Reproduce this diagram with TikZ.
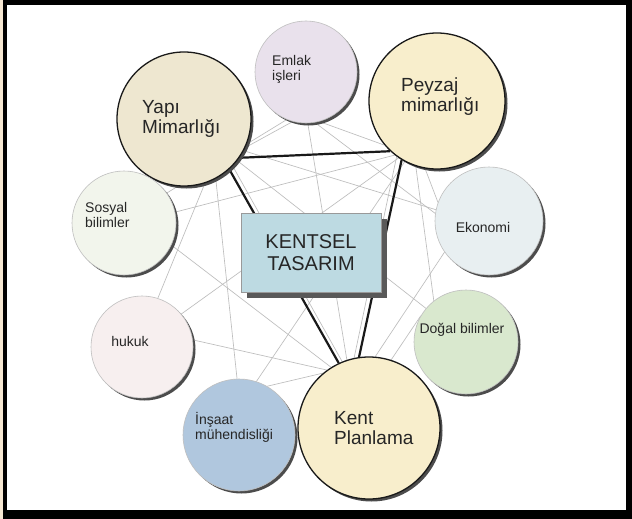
\documentclass[tikz,border=0pt]{standalone}
\usepackage{fontspec}
\setmainfont{Liberation Sans}
\usetikzlibrary{shadows,backgrounds}
\pgfdeclarelayer{frame}
\pgfdeclarelayer{edges}
\pgfsetlayers{frame,edges,main}
\definecolor{emlakc}{HTML}{E9E1EC}
\definecolor{yapic}{HTML}{EEE7D0}
\definecolor{peyzajc}{HTML}{F8EECC}
\definecolor{sosyalc}{HTML}{F2F5EC}
\definecolor{ekoc}{HTML}{E8EFF1}
\definecolor{hukukc}{HTML}{F7EFEF}
\definecolor{dogalc}{HTML}{D9E8CE}
\definecolor{insaatc}{HTML}{B0C7DE}
\definecolor{kentc}{HTML}{F8EECC}
\definecolor{boxc}{HTML}{BDDAE2}
\definecolor{thinc}{HTML}{BDBDBD}
\definecolor{beigec}{HTML}{F6E7D2}
\definecolor{txtc}{HTML}{262626}
\begin{document}
\begin{tikzpicture}[x=1pt,y=-1pt,
  bigcirc/.style={circle, draw=black!90, line width=1.3pt, inner sep=0pt,
    drop shadow={shadow xshift=2.5pt, shadow yshift=-2.5pt, fill=black!70, opacity=1}},
  smallcirc/.style={circle, draw=black!25, line width=0.6pt, inner sep=0pt,
    drop shadow={shadow xshift=2.5pt, shadow yshift=-2.5pt, fill=black!70, opacity=1}},
  biglbl/.style={inner sep=0pt, align=left, text=txtc, font=\fontsize{19}{20}\selectfont},
  smalllbl/.style={inner sep=0pt, align=left, text=txtc, font=\fontsize{14}{15}\selectfont},
  thinline/.style={draw=thinc, line width=0.65pt},
  thickline/.style={draw=black!90, line width=2.2pt},
  kbox/.style={rectangle, draw=black!40, line width=0.5pt, fill=boxc, minimum width=140pt, minimum height=79pt,
    inner sep=0pt, align=center, text=txtc, font=\fontsize{20}{22}\selectfont,
    drop shadow={shadow xshift=6pt, shadow yshift=-6pt, fill=black!65, opacity=1}}
]
\useasboundingbox (0,0) rectangle (632,519);
\begin{pgfonlayer}{frame}
  \fill[black] (0,0) rectangle (632,519);
  \fill[beigec] (0,0) rectangle (3,519);
  \fill[white] (7,5) rectangle (626,510);
\end{pgfonlayer}

% circles
\node[smallcirc, fill=emlakc, minimum size=102pt] (emlak) at (306,72) {};
\node[bigcirc, fill=yapic, minimum size=134pt] (yapi) at (184,119) {};
\node[bigcirc, fill=peyzajc, minimum size=136pt] (peyzaj) at (437,101) {};
\node[smallcirc, fill=sosyalc, minimum size=104pt] (sosyal) at (124,223) {};
\node[smallcirc, fill=ekoc, minimum size=108pt] (ekonomi) at (489,221) {};
\node[smallcirc, fill=hukukc, minimum size=102pt] (hukuk) at (142,347) {};
\node[smallcirc, fill=dogalc, minimum size=104pt] (dogal) at (466,342) {};
\node[smallcirc, fill=insaatc, minimum size=112pt] (insaat) at (239,435) {};
\node[bigcirc, fill=kentc, minimum size=142pt] (kent) at (369,428) {};
\node[kbox] (box) at (311,252.5) {KENTSEL\\TASARIM};

% labels
\node[biglbl, anchor=north west] (yapiT) at (142,100) {Yapı\\Mimarlığı};
\node[biglbl, anchor=north west] (peyzajT) at (401,78) {Peyzaj\\mimarlığı};
\node[biglbl, anchor=north west] (kentT) at (334,411) {Kent\\Planlama};
\node[smalllbl, anchor=north west] (emlakT) at (272,55) {Emlak\\işleri};
\node[smalllbl, anchor=north west] (sosyalT) at (85,202) {Sosyal\\bilimler};
\node[smalllbl, anchor=north west] (insaatT) at (195,412) {İnşaat\\mühendisliği};
\node[smalllbl] (ekoT) at (483,227) {Ekonomi};
\node[smalllbl] (dogalT) at (462,330) {Doğal bilimler};
\node[smalllbl] (hukukT) at (130,341) {hukuk};

% connectors
\begin{pgfonlayer}{edges}
  \draw[thinline] (emlak.-105) -- (yapi.-25);
  \draw[thinline] (emlak.-75) -- (peyzaj.-140);
  \draw[thinline] (emlak.-88) -- (kent.108);
  \draw[thinline] (emlak.-80) -- (ekonomi.172);
  \draw[thinline] (yapi.-28) -- (ekonomi.168);
  \draw[thinline] (yapi.-38) -- (dogal.140);
  \draw[thinline] (yapi.-44) -- (kent.112);
  \draw[thinline] (yapi.-72) -- (hukuk.72);
  \draw[thinline] (yapi.-62) -- (insaat.92);
  \draw[thinline] (sosyal.12) -- (peyzaj.-128);
  \draw[thinline] (sosyal.35) -- (emlak.-112);
  \draw[thinline] (sosyal.-25) -- (kent.122);
  \draw[thinline] (hukuk.40) -- (peyzaj.-124);
  \draw[thinline] (hukuk.8) -- (kent.126);
  \draw[thinline] (insaat.72) -- (peyzaj.-118);
  \draw[thinline] (insaat.60) -- (kent.130);
  \draw[thinline] (dogal.150) -- (kent.72);
  \draw[thinline] (dogal.128) -- (peyzaj.-108);
  \draw[thinline] (ekonomi.160) -- (peyzaj.-100);
  \draw[thinline] (peyzaj.-126) -- (kent.102);
  \draw[thinline] (kent.85) -- (ekonomi.215);
  \draw[thickline] (yapi.-35) -- (peyzaj.-133);
  \draw[thickline] (yapi.-48) -- (kent.115);
  \draw[thickline] (peyzaj.-121) -- (kent.98);
\end{pgfonlayer}
\end{tikzpicture}
\end{document}
